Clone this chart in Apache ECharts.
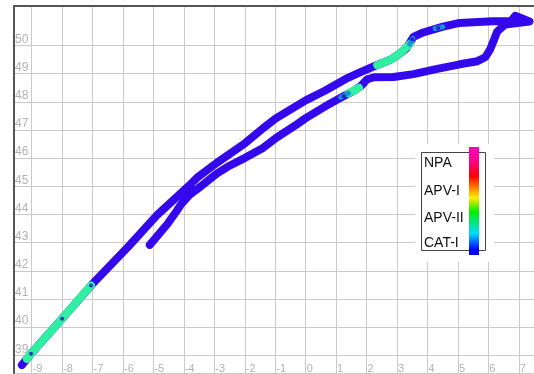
<!DOCTYPE html>
<html>
<head>
<meta charset="utf-8">
<script src="https://cdn.jsdelivr.net/npm/echarts@6/dist/echarts.min.js"></script>
<style>
html,body{margin:0;padding:0;background:#fff;}
#chart{width:534px;height:374px;}
</style>
</head>
<body>
<div id="chart"></div>
<script>
// ---- data ----
const trackX = [-9.32,-9.0,-8.0,-7.03,-5.83,-4.86,-3.85,-3.57,-2.92,-1.99,-1.40,-0.98,-0.34,0.0,0.63,1.3,1.8,2.25,2.8,3.1,3.31,3.54,3.86,4.51,5.06,6.13,6.75,6.88,7.05,7.35,6.55,6.29,6.19,6.06,5.90,5.64,5.06,4.28,3.54,2.89,2.25,2.02,1.83,1.6,1.18,0.63,-0.01,-0.34,-0.98,-1.40,-1.99,-2.50,-2.92,-3.57,-3.80,-4.10,-4.22,-4.54,-5.12];
const trackY = [38.65,39.08,40.3,41.5,42.85,44.0,45.0,45.3,45.83,46.53,47.06,47.41,47.83,48.05,48.39,48.8,49.05,49.26,49.5,49.72,49.9,50.3,50.46,50.67,50.8,50.86,50.86,51.05,50.98,50.85,50.74,50.49,50.21,49.86,49.58,49.44,49.33,49.16,48.98,48.88,48.87,48.8,48.58,48.4,48.16,47.83,47.41,47.16,46.71,46.36,46.01,45.73,45.45,44.89,44.71,44.35,44.15,43.66,42.92];

const greenAX = [-9.16,-9.0,-8.0,-7.05];
const greenAY = [38.87,39.08,40.3,41.48];
const greenBX = [2.35,2.8,3.1,3.42];
const greenBY = [49.3,49.5,49.72,50.05];
const greenCX = [1.4,1.6,1.75];
const greenCY = [48.3,48.4,48.5];
const tealX = [[1.15,1.4],[3.42,3.52],[4.25,4.5]];
const tealY = [[48.16,48.3],[50.05,50.25],[50.6,50.66]];
const markX = [-9.02,-8.0,-7.05,1.25,3.5,3.75,4.35];
const markY = [39.05,40.3,41.48,48.2,50.22,50.42,50.62];

const xRange = {min:-9.58, max:7.5};
const yRange = {min:38.37, max:51.4};
const yHiddenTick = 51;
const legendLabels = ['NPA','APV-I','APV-II','CAT-I'];

const BLUE = '#3308ec', GREEN = '#2ef0a0', TEAL = '#1890d8';

const zip = (xs, ys) => xs.map((x, i) => [x, ys[i]]);
const lineSeries = (xs, ys, color, width, z) => ({
  type:'line', data: zip(xs, ys), showSymbol:false, symbol:'none', z:z, silent:true,
  lineStyle:{color:color, width:width, cap:'round', join:'round'}, animation:false
});

const series = [lineSeries(trackX, trackY, BLUE, 8, 2),
  lineSeries(greenAX, greenAY, GREEN, 8, 3),
  lineSeries(greenBX, greenBY, GREEN, 8, 3),
  lineSeries(greenCX, greenCY, GREEN, 8, 3)];
tealX.forEach((xs, i) => series.push(lineSeries(xs, tealY[i], TEAL, 5, 4)));
series.push({type:'scatter', data: zip(markX, markY), symbolSize:4, z:5, silent:true,
  itemStyle:{color:'#2a06c8'}, animation:false});

const gridColor = '#c9c9c9';
const labelColor = '#b2b2b2';

// y split lines: extent-min, 39..51, extent-max -> hide the line at 51
const yLineColors = [];
yLineColors.push(gridColor);
for (let v = 39; v <= 51; v++) yLineColors.push(v === yHiddenTick ? 'rgba(0,0,0,0)' : gridColor);
yLineColors.push(gridColor);

const legendGraphic = [
  {type:'rect', shape:{x:415,y:144,width:79,height:118}, style:{fill:'#fff'}, z:10},
  {type:'rect', shape:{x:421.5,y:152.5,width:64,height:98}, style:{fill:'#fff', stroke:'#444', lineWidth:1}, z:11},
  {type:'rect', shape:{x:469,y:147,width:10,height:108}, z:12,
    style:{fill:new echarts.graphic.LinearGradient(0,0,0,1,[
      {offset:0,color:'#ff00c8'},{offset:0.12,color:'#ff0090'},{offset:0.27,color:'#ff0000'},
      {offset:0.47,color:'#ffee00'},{offset:0.6,color:'#00ee00'},{offset:0.8,color:'#00ddff'},
      {offset:0.95,color:'#0000ff'},{offset:1,color:'#0000ee'}])}}
];
const labelYs = [163,191,218,243];
legendLabels.forEach((t, i) => legendGraphic.push({type:'text', x:424, y:labelYs[i], z:12,
  style:{text:t, fill:'#111', font:'14px "Liberation Sans", Arial, sans-serif', verticalAlign:'middle', align:'left'}}));

const chart = echarts.init(document.getElementById('chart'), null, {renderer:'canvas'});
chart.setOption({
  animation:false,
  backgroundColor:'#fff',
  grid:{left:14, top:6, width:528.5, height:372, containLabel:false},
  xAxis:[{
    type:'value', min:xRange.min, max:xRange.max, splitNumber:17, minInterval:1, maxInterval:1,
    axisLine:{show:false, onZero:false}, axisTick:{show:false},
    splitLine:{show:true, lineStyle:{color:gridColor, width:1}},
    axisLabel:{inside:true, margin:-1, align:'left', color:labelColor, fontSize:11,
      fontFamily:'"Liberation Sans", Arial, sans-serif', showMinLabel:false, showMaxLabel:false, padding:[0,0,0,1]}
  },{
    type:'value', position:'top', min:xRange.min, max:xRange.max,
    axisLine:{show:true, onZero:false, lineStyle:{color:'#555', width:2}}, axisTick:{show:false},
    axisLabel:{show:false}, splitLine:{show:false}
  }],
  yAxis:{
    type:'value', min:yRange.min, max:yRange.max, splitNumber:13, minInterval:1, maxInterval:1,
    axisLine:{show:true, onZero:false, lineStyle:{color:'#555', width:2}}, axisTick:{show:false},
    splitLine:{show:true, lineStyle:{color:yLineColors, width:1}},
    axisLabel:{inside:true, margin:1, verticalAlign:'bottom', color:labelColor, fontSize:12,
      fontFamily:'"Liberation Sans", Arial, sans-serif', showMinLabel:false, showMaxLabel:false,
      formatter:(v) => v === yHiddenTick ? '' : String(v)}
  },
  series: series,
  graphic: legendGraphic
});
</script>
</body>
</html>
